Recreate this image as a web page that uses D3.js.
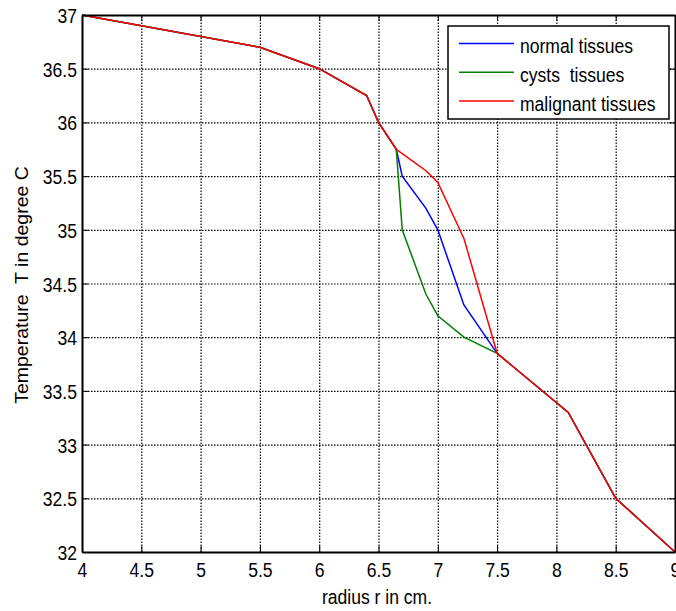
<!doctype html>
<html>
<head>
<meta charset="utf-8">
<title>Temperature vs radius</title>
<script src="https://d3js.org/d3.v7.min.js"></script>
<style>
  body { margin: 0; background: #fff; }
  text { font-family: "Liberation Sans", Arial, sans-serif; }
</style>
</head>
<body>
<svg id="chart" width="676" height="611"></svg>
<script>
// data
const radius = [4, 5.5, 6, 6.4, 6.5, 6.65, 6.7, 6.9, 7, 7.22, 7.5, 8.1, 8.5, 9]
const normalT = [37, 36.7, 36.5, 36.25, 36, 35.75, 35.5, 35.2, 35.0, 34.3, 33.85, 33.3, 32.5, 32]
const cystsT = [37, 36.7, 36.5, 36.25, 36, 35.75, 35.0, 34.4, 34.2, 34.0, 33.85, 33.3, 32.5, 32]
const malignantT = [37, 36.7, 36.5, 36.25, 36, 35.75, 35.71, 35.55, 35.44, 34.92, 33.85, 33.3, 32.5, 32]

const seriesNames = ["normal tissues", "cysts  tissues", "malignant tissues"]
const seriesColors = ["#0000ff", "#008000", "#ff0000"]

const xTicks = [4, 4.5, 5, 5.5, 6, 6.5, 7, 7.5, 8, 8.5, 9]
const yTicks = [32, 32.5, 33, 33.5, 34, 34.5, 35, 35.5, 36, 36.5, 37]

const LEFT = 82, RIGHT = 675, TOP = 15, BOTTOM = 552
const FONT = "19.5px"
const SQUEEZE = 0.9   // the reference text is a bit narrower than it is tall

const svg = d3.select("#chart")

const x = d3.scaleLinear().domain([4, 9]).range([LEFT, RIGHT])
const y = d3.scaleLinear().domain([32, 37]).range([BOTTOM, TOP])

const plotW = RIGHT - LEFT, plotH = BOTTOM - TOP

// places a text at (tx, ty) with the narrow look
function place(sel, tx, ty) {
    sel.attr("x", 0).attr("y", 0).attr("dy", null)
        .attr("transform", "translate(" + tx + "," + ty + ") scale(" + SQUEEZE + ",1)")
}

// dotted grid
const gridX = svg.append("g")
    .attr("transform", "translate(0," + BOTTOM + ")")
    .call(d3.axisBottom(x).tickValues(xTicks).tickSize(-plotH).tickFormat(""))
const gridY = svg.append("g")
    .attr("transform", "translate(" + LEFT + ",0)")
    .call(d3.axisLeft(y).tickValues(yTicks).tickSize(-plotW).tickFormat(""))
;[gridX, gridY].forEach(g => {
    g.select(".domain").remove()
    g.selectAll("line").attr("stroke", "#000").attr("stroke-width", 1.2).attr("stroke-dasharray", "1.5,1.5")
})

// series lines
const allSeries = [normalT, cystsT, malignantT]
const line = d3.line().x((d, i) => x(radius[i])).y(d => y(d))
allSeries.forEach((vals, k) => {
    svg.append("path")
        .datum(vals)
        .attr("fill", "none")
        .attr("stroke", seriesColors[k])
        .attr("stroke-width", 1.5)
        .attr("d", line)
})

// frame with inward ticks
const tickLen = 6
const bottomAxis = svg.append("g").attr("transform", "translate(0," + BOTTOM + ")")
    .call(d3.axisBottom(x).tickValues(xTicks).tickSize(-tickLen).tickSizeOuter(0).tickFormat(d3.format("")))
const topAxis = svg.append("g").attr("transform", "translate(0," + TOP + ")")
    .call(d3.axisTop(x).tickValues(xTicks).tickSize(-tickLen).tickSizeOuter(0).tickFormat(""))
const leftAxis = svg.append("g").attr("transform", "translate(" + LEFT + ",0)")
    .call(d3.axisLeft(y).tickValues(yTicks).tickSize(-tickLen).tickSizeOuter(0).tickFormat(d3.format("")))
const rightAxis = svg.append("g").attr("transform", "translate(" + RIGHT + ",0)")
    .call(d3.axisRight(y).tickValues(yTicks).tickSize(-tickLen).tickSizeOuter(0).tickFormat(""))

;[bottomAxis, topAxis, leftAxis, rightAxis].forEach(g => {
    g.select(".domain").attr("stroke", "#000").attr("stroke-width", 2)
    g.selectAll("line").attr("stroke", "#000").attr("stroke-width", 1)
    g.attr("font-family", null).attr("font-size", FONT)
})
bottomAxis.selectAll("text").attr("fill", "#000").call(place, 0, 24.7)
leftAxis.selectAll("text").attr("fill", "#000").call(place, -5, 7.5)

// axis titles
svg.append("text")
    .attr("text-anchor", "middle")
    .attr("font-size", FONT)
    .text("radius r in cm.")
    .call(place, 377, 604.3)
svg.append("text")
    .attr("transform", "translate(27.5,285) rotate(-90) scale(1," + SQUEEZE + ")")
    .attr("text-anchor", "middle")
    .attr("font-size", FONT)
    .style("white-space", "pre")
    .text("Temperature  T in degree C")

// legend
const legend = svg.append("g")
legend.append("rect")
    .attr("x", 448).attr("y", 26).attr("width", 221).attr("height", 93)
    .attr("fill", "#fff").attr("stroke", "#000").attr("stroke-width", 1.5)
seriesNames.forEach((name, k) => {
    const ly = 43.5 + k * 28.8
    legend.append("line")
        .attr("x1", 459).attr("x2", 514).attr("y1", ly).attr("y2", ly)
        .attr("stroke", seriesColors[k]).attr("stroke-width", 1.5)
    legend.append("text")
        .attr("font-size", FONT)
        .style("white-space", "pre")
        .text(name)
        .call(place, 520, ly + 9.4)
})
</script>
</body>
</html>
